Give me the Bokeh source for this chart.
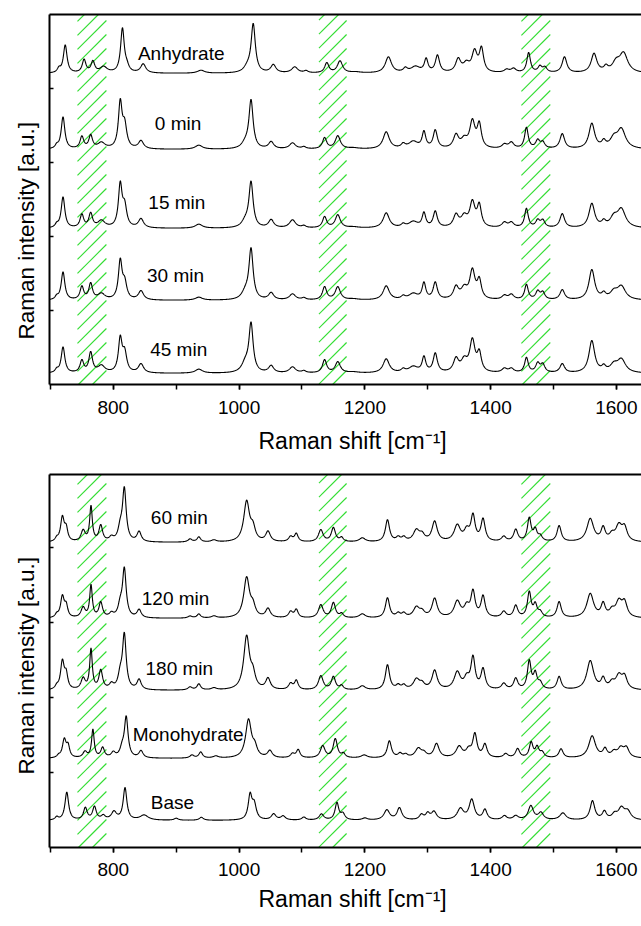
import numpy as np
from bokeh.plotting import figure
from bokeh.models import (Range1d, LinearAxis, FixedTicker, SingleIntervalTicker,
                          ColumnDataSource, Title, CustomLabelingPolicy)
from bokeh.layouts import column
from bokeh.embed import file_html
from bokeh.resources import INLINE
from bokeh.core.properties import value

FONT = "Liberation Sans"

# ---------------- data ----------------
x_start, x_end = 698.5, 1640.0
raman_x = np.arange(x_start, x_end + 0.01, 0.5)

band_left = [743, 1127, 1449]
band_right = [789, 1171, 1495]

x_title = "Raman shift [cm\u207b\u00b9]"
y_title = "Raman intensity [a.u.]"

# top panel
top_names = ["Anhydrate", "0 min", "15 min", "30 min", "45 min"]
top_offsets = [311, 235, 156, 84, 11]
top_shifts = [3.5, 0, 0, 0, 0]
top_label_x = [908, 903, 901, 899, 904]
top_label_y = [331, 261, 182, 109, 35]
top_pos = [710, 720, 750, 764, 781, 811, 818, 844, 936, 1010, 1019, 1051, 1085, 1103,
           1136, 1157, 1182, 1234, 1261, 1277, 1294, 1312, 1345, 1358, 1371, 1382,
           1422, 1433, 1457, 1475, 1483, 1514, 1561, 1580, 1596, 1608]
top_fwhm = [6, 7, 7, 7, 14, 7, 8, 10, 14, 14, 8, 10, 12, 8,
            8, 10, 20, 12, 8, 18, 7, 8, 10, 12, 10, 8,
            10, 10, 7, 8, 8, 9, 11, 8, 14, 16]
h_anhydrate = [4, 28, 13, 11, 6, 44, 5, 9, 3, 5, 48, 8, 6, 2,
               10, 12, 1, 16, 4, 6, 13, 17, 13, 8, 20, 23,
               3, 4, 20, 6, 5, 16, 19, 5, 9, 19]
h_0min = [3, 32, 12, 13, 6, 45, 22, 8, 4, 5, 48, 7, 6, 2,
          11, 13, 1, 17, 4, 7, 16, 18, 13, 8, 26, 23,
          4, 6, 21, 8, 6, 15, 25, 6, 9, 19]
h_15min = [3, 31, 13, 14, 7, 42, 20, 9, 4, 6, 45, 8, 8, 2,
           11, 13, 1, 15, 3, 6, 14, 16, 12, 10, 24, 21,
           5, 5, 19, 7, 7, 14, 24, 5, 9, 18]
h_30min = [3, 28, 13, 16, 6, 38, 16, 9, 3, 7, 50, 7, 6, 2,
           13, 13, 1, 14, 3, 6, 16, 17, 12, 10, 28, 18,
           4, 5, 15, 8, 7, 10, 30, 5, 7, 13]
h_45min = [3, 26, 12, 20, 7, 33, 19, 9, 4, 9, 48, 7, 6, 2,
           13, 11, 1, 14, 3, 6, 15, 19, 13, 11, 31, 18,
           4, 4, 15, 9, 8, 9, 32, 5, 7, 13]
top_heights = [h_anhydrate, h_0min, h_15min, h_30min, h_45min]

# bottom panel
bot_names = ["60 min", "120 min", "180 min", "Monohydrate", "Base"]
bot_offsets = [305, 229, 157, 89, 27]
bot_shifts = [0, 0, 0, 3, 0]
bot_label_x = [905, 899, 905, 919, 894]
bot_label_y = [330, 249, 179, 113, 45]
bot_pos = [710, 719, 725, 752, 764.5, 780, 797, 811, 817.5, 841, 922, 936, 960,
           1012, 1022, 1046, 1082, 1091, 1130, 1150, 1163, 1196, 1236, 1253, 1262,
           1282, 1291, 1311, 1347, 1362, 1372, 1388, 1421, 1440, 1461.5, 1471, 1479,
           1509, 1558.5, 1579, 1593, 1604, 1613]
bot_fwhm = [6, 7, 6, 8, 5, 7, 8, 8, 7, 8, 8, 7, 10,
            11, 9, 9, 8, 7, 9, 8, 7, 12, 8, 8, 8,
            12, 10, 10, 12, 10, 8, 8, 9, 8, 7, 7, 8,
            8, 13, 8, 10, 12, 10]
h_60min = [3, 24, 12, 11, 35, 16, 4, 12, 52, 10, 3, 5, 2,
           40, 12, 10, 5, 8, 12, 14, 4, 4, 22, 4, 4,
           11, 6, 20, 16, 10, 25, 22, 5, 12, 23, 11, 5,
           16, 23, 13, 6, 15, 13]
h_120min = [3, 21, 11, 10, 32, 15, 4, 11, 48, 8, 2, 4, 2,
            40, 10, 9, 6, 8, 13, 15, 4, 4, 20, 4, 4,
            10, 5, 19, 16, 10, 25, 21, 6, 12, 25, 12, 5,
            16, 24, 13, 6, 15, 14]
h_180min = [3, 28, 14, 11, 40, 19, 5, 13, 54, 10, 3, 6, 2,
            53, 13, 11, 6, 9, 14, 13, 4, 4, 25, 4, 4,
            10, 5, 19, 17, 10, 31, 20, 6, 11, 28, 15, 6,
            13, 29, 10, 6, 13, 12]
h_monohydrate = [2, 18, 11, 6, 28, 10, 5, 8, 40, 7, 3, 6, 2,
                 38, 9, 7, 4, 8, 12, 19, 4, 3, 17, 4, 3,
                 9, 4, 14, 11, 7, 23, 13, 4, 9, 15, 10, 5,
                 9, 22, 8, 5, 9, 9]
bot_heights = [h_60min, h_120min, h_180min, h_monohydrate]

base_pos = [710, 726, 755.5, 770, 784, 801, 818.6, 849, 900, 940, 1017.5, 1024, 1055,
            1070, 1103, 1131, 1155.6, 1165, 1200, 1235, 1255, 1290, 1300, 1310, 1352,
            1370, 1391, 1422, 1440, 1464, 1480, 1515, 1562, 1581, 1597, 1608, 1618]
base_fwhm = [6, 7, 7, 7, 8, 10, 7, 16, 8, 8, 7, 8, 9,
             9, 8, 9, 7, 8, 10, 11, 9, 8, 8, 10, 12,
             10, 8, 9, 10, 10, 10, 12, 9, 8, 10, 12, 12]
h_base = [3, 28, 12, 13, 4, 8, 32, 5, 2, 3, 24, 15, 6,
          4, 3, 6, 17, 6, 2, 10, 12, 5, 6, 8, 11,
          20, 10, 4, 4, 14, 7, 7, 19, 8, 5, 11, 8]

top_y_ticks = [74, 148, 222, 296]
bot_y_ticks = [75, 150, 225, 300]

# ---------------- styling / layout constants ----------------
FIG_W = 641
BORDER_LEFT = 49
FRAME_W = FIG_W - BORDER_LEFT
HATCH_STEP = 14          # vertical spacing of hatch lines in px


def spectrum(pos, fwhm, heights, shift, offset):
    y = np.full(raman_x.shape, float(offset))
    for p0, w, h in zip(pos, fwhm, heights):
        g = w / 2.0
        y += h / (1.0 + ((raman_x - (p0 + shift)) / g) ** 2)
    return y


def hatch_segments(L, R, ymax):
    # 45 degree lines on screen (1 px vertical == 1 y-unit)
    m = FRAME_W / (x_end - x_start)
    xs0, ys0, xs1, ys1 = [], [], [], []
    c = -m * (R - L)
    while c < ymax:
        xa, xb = L, R
        ya, yb = c, c + m * (R - L)
        if ya < 0:
            xa = L + (0 - c) / m
            ya = 0
        if yb > ymax:
            xb = L + (ymax - c) / m
            yb = ymax
        if xb > xa:
            xs0.append(xa); ys0.append(ya); xs1.append(xb); ys1.append(yb)
        c += HATCH_STEP
    return xs0, ys0, xs1, ys1


NO_LABELS = "for (const i of indices) { indices.unset(i) } return indices"


def make_panel(height, y_max, y_ticks, border_top, border_bottom, lab_standoff,
               xtitle_standoff, ytitle_offset):
    p = figure(width=FIG_W, height=height,
               x_range=Range1d(x_start, x_end), y_range=Range1d(0, y_max),
               output_backend="svg", toolbar_location=None,
               x_axis_location=None, y_axis_location=None,
               min_border_left=BORDER_LEFT, min_border_right=0,
               min_border_top=border_top, min_border_bottom=border_bottom)
    p.outline_line_color = None
    p.background_fill_color = "white"
    p.border_fill_color = "white"
    p.xgrid.grid_line_color = None
    p.ygrid.grid_line_color = None

    for l, r in zip(band_left, band_right):
        x0, y0, x1, y1 = hatch_segments(l, r, y_max)
        p.segment(x0=x0, y0=y0, x1=x1, y1=y1, line_color="#33dd33", line_width=1.1)

    xa = LinearAxis(ticker=SingleIntervalTicker(interval=200, num_minor_ticks=2))
    xa.major_label_text_font = FONT
    xa.major_label_text_font_size = "19px"
    xa.major_label_text_color = "black"
    xa.major_label_standoff = lab_standoff
    xa.axis_line_width = 2
    xa.axis_line_color = "black"
    xa.major_tick_in = 0
    xa.major_tick_out = 5
    xa.minor_tick_in = 0
    xa.minor_tick_out = 5
    xa.major_tick_line_width = 1.5
    xa.minor_tick_line_width = 1.5
    xa.major_tick_line_color = "black"
    xa.minor_tick_line_color = "black"
    p.add_layout(xa, "below")

    ya = LinearAxis(ticker=FixedTicker(ticks=y_ticks))
    ya.major_label_policy = CustomLabelingPolicy(code=NO_LABELS)
    ya.major_label_text_font_size = "0px"
    ya.major_label_standoff = 0
    ya.axis_line_width = 2
    ya.axis_line_color = "black"
    ya.major_tick_in = 4
    ya.major_tick_out = 0
    ya.major_tick_line_width = 1.5
    ya.major_tick_line_color = "black"
    ya.minor_tick_line_color = None
    p.add_layout(ya, "left")

    ta = LinearAxis(ticker=FixedTicker(ticks=[]))
    ta.major_label_policy = CustomLabelingPolicy(code=NO_LABELS)
    ta.major_label_text_font_size = "0px"
    ta.major_label_standoff = 0
    ta.axis_line_width = 2
    ta.axis_line_color = "black"
    ta.major_tick_in = 0
    ta.major_tick_out = 0
    ta.minor_tick_line_color = None
    p.add_layout(ta, "above")

    p.add_layout(Title(text=x_title, align="left", offset=209, vertical_align="middle",
                       text_font=FONT, text_font_size="23px", text_font_style="normal",
                       text_color="black", standoff=xtitle_standoff), "below")
    p.add_layout(Title(text=y_title, align="left", vertical_align="bottom",
                       text_font=FONT, text_font_size="22.5px", text_font_style="normal",
                       text_color="black", offset=ytitle_offset, standoff=22), "left")
    return p


top = make_panel(470, 370, top_y_ticks, 14, 86, 11, 21, 45)
for nm, off, sh, hs in zip(top_names, top_offsets, top_shifts, top_heights):
    top.line(raman_x, spectrum(top_pos, top_fwhm, hs, sh, off),
             line_color="black", line_width=1.1)
top.text(x="x", y="y", text="t",
         source=ColumnDataSource(dict(x=top_label_x, y=top_label_y, t=top_names)),
         text_font=value(FONT), text_font_size="19px", text_align="center",
         text_baseline="middle", text_color="black")

bot = make_panel(456, 373, bot_y_ticks, 4, 79, 10, 13, 73)
for nm, off, sh, hs in zip(bot_names[:4], bot_offsets[:4], bot_shifts[:4], bot_heights):
    bot.line(raman_x, spectrum(bot_pos, bot_fwhm, hs, sh, off),
             line_color="black", line_width=1.1)
bot.line(raman_x, spectrum(base_pos, base_fwhm, h_base, bot_shifts[4], bot_offsets[4]),
         line_color="black", line_width=1.1)
bot.text(x="x", y="y", text="t",
         source=ColumnDataSource(dict(x=bot_label_x, y=bot_label_y, t=bot_names)),
         text_font=value(FONT), text_font_size="19px", text_align="center",
         text_baseline="middle", text_color="black")

layout = column(top, bot, spacing=0)
open("out.html", "w").write(file_html(layout, INLINE))
